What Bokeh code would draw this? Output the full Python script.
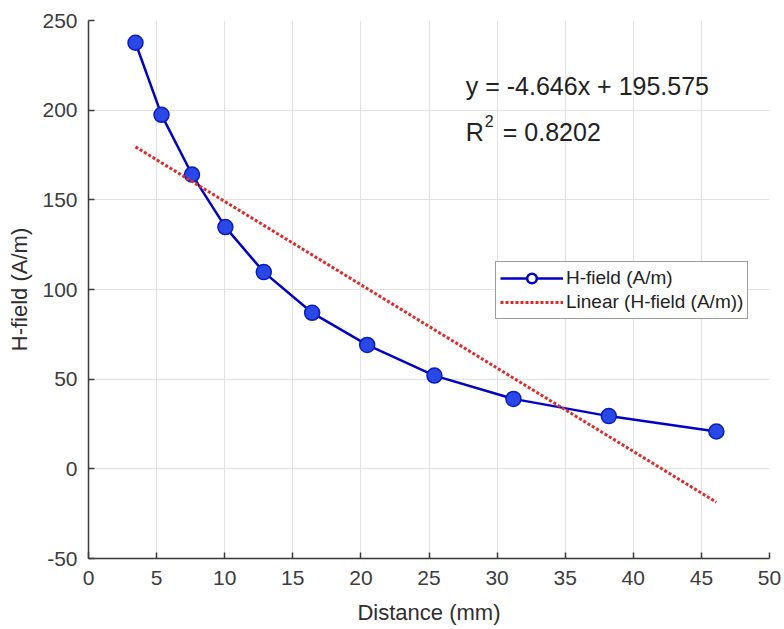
from bokeh.plotting import figure
from bokeh.models import Legend, LegendItem, Label, ColumnDataSource, FixedTicker
from bokeh.embed import file_html
from bokeh.resources import INLINE
import numpy as np

# ---- data ----
distance_mm = [3.45, 5.36, 7.6, 10.05, 12.87, 16.42, 20.46, 25.4, 31.2, 38.2, 46.1]
h_field = [237.6, 197.4, 164.1, 134.8, 109.7, 87.0, 69.1, 52.0, 39.0, 29.4, 20.8]
fit_slope = -4.646
fit_intercept = 195.575
r_squared = 0.8202
x_ticks = [0, 5, 10, 15, 20, 25, 30, 35, 40, 45, 50]
y_ticks = [-50, 0, 50, 100, 150, 200, 250]

FONT = "Liberation Sans"

p = figure(width=784, height=629, x_range=(0, 50), y_range=(-50, 250),
           output_backend="svg", toolbar_location=None)
p.min_border_left = 88
p.min_border_right = 15
p.min_border_top = 20
p.min_border_bottom = 71
p.outline_line_color = None
p.background_fill_color = "white"

# grid
for g in (p.xgrid, p.ygrid):
    g.grid_line_color = "#e2e2e2"
    g.grid_line_width = 1
p.xaxis.ticker = FixedTicker(ticks=x_ticks)
p.yaxis.ticker = FixedTicker(ticks=y_ticks)
p.yaxis.major_label_overrides = {t: str(t) for t in y_ticks}
p.xaxis.major_label_overrides = {t: str(t) for t in x_ticks}

for ax in (p.xaxis, p.yaxis):
    ax.axis_line_color = "#3a3a3a"
    ax.axis_line_width = 1.5
    ax.major_tick_in = 6
    ax.major_tick_out = 0
    ax.major_tick_line_color = "#3a3a3a"
    ax.major_tick_line_width = 1.5
    ax.minor_tick_line_color = None
    ax.major_label_text_font = FONT
    ax.major_label_text_font_size = "21px"
    ax.major_label_text_color = "#3c3c3c"
    ax.axis_label_text_font = FONT
    ax.axis_label_text_font_size = "22px"
    ax.axis_label_text_font_style = "normal"
    ax.axis_label_text_color = "#2e2e2e"

p.xaxis.major_label_standoff = 12
p.yaxis.major_label_standoff = 11
p.xaxis.axis_label = "Distance (mm)"
p.yaxis.axis_label = "H-field (A/m)"
p.xaxis.axis_label_standoff = 12
p.yaxis.axis_label_standoff = 7

# data series
src = ColumnDataSource(dict(x=distance_mm, y=h_field))
line_r = p.line("x", "y", source=src, line_color="#0000c8", line_width=2.5)
p.scatter("x", "y", source=src, size=15, marker="circle",
          fill_color="#2a48e6", line_color="#0a1cc0", line_width=1.5)

# linear trend line from the stated equation
xs_fit = np.array([distance_mm[0], distance_mm[-1]])
ys_fit = fit_slope * xs_fit + fit_intercept
trend_r = p.line(xs_fit, ys_fit, line_color="#e02a2a", line_width=3, line_dash="3 2")

# legend proxy: hollow marker
proxy = p.scatter([np.nan], [np.nan], size=10, marker="circle",
                  fill_color="white", line_color="#0000c8", line_width=2.5)

legend = Legend(items=[
    LegendItem(label="H-field (A/m)", renderers=[line_r, proxy]),
    LegendItem(label="Linear (H-field (A/m))", renderers=[trend_r]),
], location=(407, 239))
legend.label_text_font = FONT
legend.label_text_font_size = "19px"
legend.label_text_color = "#222222"
legend.border_line_color = "#3a3a3a"
legend.border_line_width = 1.2
legend.background_fill_color = "white"
legend.background_fill_alpha = 1
legend.padding = 4
legend.spacing = 0
legend.margin = 0
legend.glyph_width = 63
legend.glyph_height = 24
legend.label_height = 24
legend.label_standoff = 3
p.add_layout(legend, "center")

# equation annotation
eq_x = 27.7
eq_text = "y = %.3fx + %.3f" % (fit_slope, fit_intercept)
p.add_layout(Label(x=eq_x, y=213.2, text=eq_text, text_font=FONT,
                   text_font_size="25px", text_color="#222222",
                   text_baseline="alphabetic"))
p.add_layout(Label(x=eq_x, y=188.1, text="R", text_font=FONT,
                   text_font_size="25px", text_color="#222222",
                   text_baseline="alphabetic"))
p.add_layout(Label(x=eq_x, y=188.1, x_offset=19, y_offset=11, text="2",
                   text_font=FONT, text_font_size="16px", text_color="#222222",
                   text_baseline="alphabetic"))
p.add_layout(Label(x=eq_x, y=188.1, x_offset=37, text="= %.4f" % r_squared,
                   text_font=FONT, text_font_size="25px", text_color="#222222",
                   text_baseline="alphabetic"))

open("out.html", "w").write(file_html(p, INLINE))
